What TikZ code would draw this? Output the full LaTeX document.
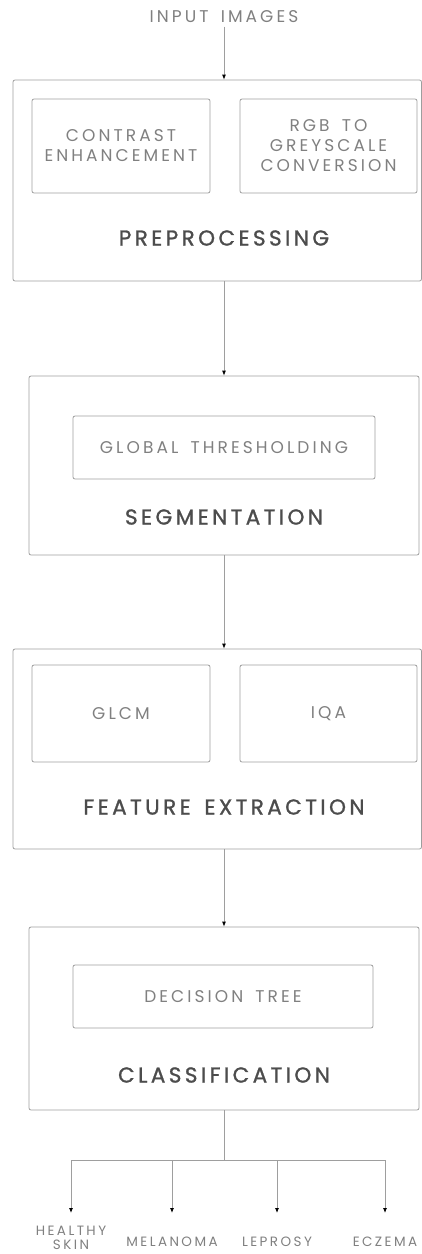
\documentclass[tikz,border=0pt]{standalone}
\usepackage{fontspec}
\setmainfont{Poppins}
\newfontfamily\boxfont{Poppins}[LetterSpace=18,WordSpace=1.6]
\newfontfamily\titlefont{Poppins}[LetterSpace=16,WordSpace=1.5,FakeBold=1.2]
\usepackage{tikz}
\usetikzlibrary{calc,arrows.meta,positioning}
\definecolor{linegrey}{gray}{0.62}
\definecolor{textgrey}{gray}{0.5}
\definecolor{titlegrey}{gray}{0.3}

\begin{document}
\begin{tikzpicture}[x=1pt,y=-1pt]

\tikzset{outerbox/.style={draw=linegrey,line width=0.8pt,rounded corners=2pt,inner sep=0pt},
innerbox/.style={draw=linegrey,line width=0.8pt,rounded corners=2pt,inner sep=0pt,align=center,text=textgrey,font=\boxfont\fontsize{17}{20}\selectfont},
titlenode/.style={text=titlegrey,font=\titlefont\fontsize{21.5}{22}\selectfont},
labelnode/.style={text=textgrey,font=\boxfont\fontsize{17}{18}\selectfont},
outnode/.style={text=textgrey,align=center,inner sep=0pt,font=\boxfont\fontsize{13.5}{14}\selectfont},
arr/.style={draw=linegrey,line width=0.8pt,-{Latex[black,length=5pt,width=4pt]}}}

\useasboundingbox (0,0) rectangle (422,1254);

% Input
\node[labelnode] (input) at (224,17) {INPUT IMAGES};

% Preprocessing
\node[outerbox,minimum width=408.5,minimum height=201] (pre) at (217.25,180.5) {};
\node[innerbox,minimum width=178,minimum height=94] (contrast) at (121,146) {CONTRAST\\ENHANCEMENT};
\node[innerbox,minimum width=177,minimum height=94] (rgb) at (328.5,146) {RGB TO\\GREYSCALE\\CONVERSION};
\node[titlenode] (preTitle) at (224,238) {PREPROCESSING};

% Segmentation
\node[outerbox,minimum width=390,minimum height=179] (seg) at (224,465.5) {};
\node[innerbox,minimum width=302,minimum height=63] (global) at (224,447.5) {GLOBAL THRESHOLDING};
\node[titlenode] (segTitle) at (224,517) {SEGMENTATION};

% Feature extraction
\node[outerbox,minimum width=408.5,minimum height=200] (feat) at (217.25,749) {};
\node[innerbox,minimum width=178,minimum height=97] (glcm) at (121,713.5) {};
\node[innerbox,minimum width=177,minimum height=97] (iqa) at (328.5,713.5) {};
\node[labelnode] at (glcm) {GLCM};
\node[labelnode] at (iqa) {IQA};
\node[titlenode] (featTitle) at (224,807) {FEATURE EXTRACTION};

% Classification
\node[outerbox,minimum width=390,minimum height=183] (cls) at (224,1018.5) {};
\node[innerbox,minimum width=300,minimum height=63] (tree) at (223,996.5) {DECISION TREE};
\node[titlenode] (clsTitle) at (224,1075) {CLASSIFICATION};

% Outputs
\node[outnode] (healthy) at (71,1238) {HEALTHY\\SKIN};
\node[outnode] (melanoma) at (172,1242) {MELANOMA};
\node[outnode] (leprosy) at (277,1242) {LEPROSY};
\node[outnode] (eczema) at (385,1242) {ECZEMA};
\coordinate (split) at (224,1160);

% Flow
\draw[arr] (input) -- (input |- pre.north);
\draw[arr] (pre.south -| input) -- (seg.north);
\draw[arr] (seg.south) -- (seg.south |- feat.north);
\draw[arr] (feat.south -| cls) -- (cls.north);
\draw[draw=linegrey,line width=0.8pt] (cls.south) -- (split);
\foreach \n in {melanoma,leprosy,eczema} \draw[arr] (split) -| ($(\n)+(0,-29)$);
\draw[arr] (split) -| ($(healthy)+(0,-25)$);

\end{tikzpicture}
\end{document}
